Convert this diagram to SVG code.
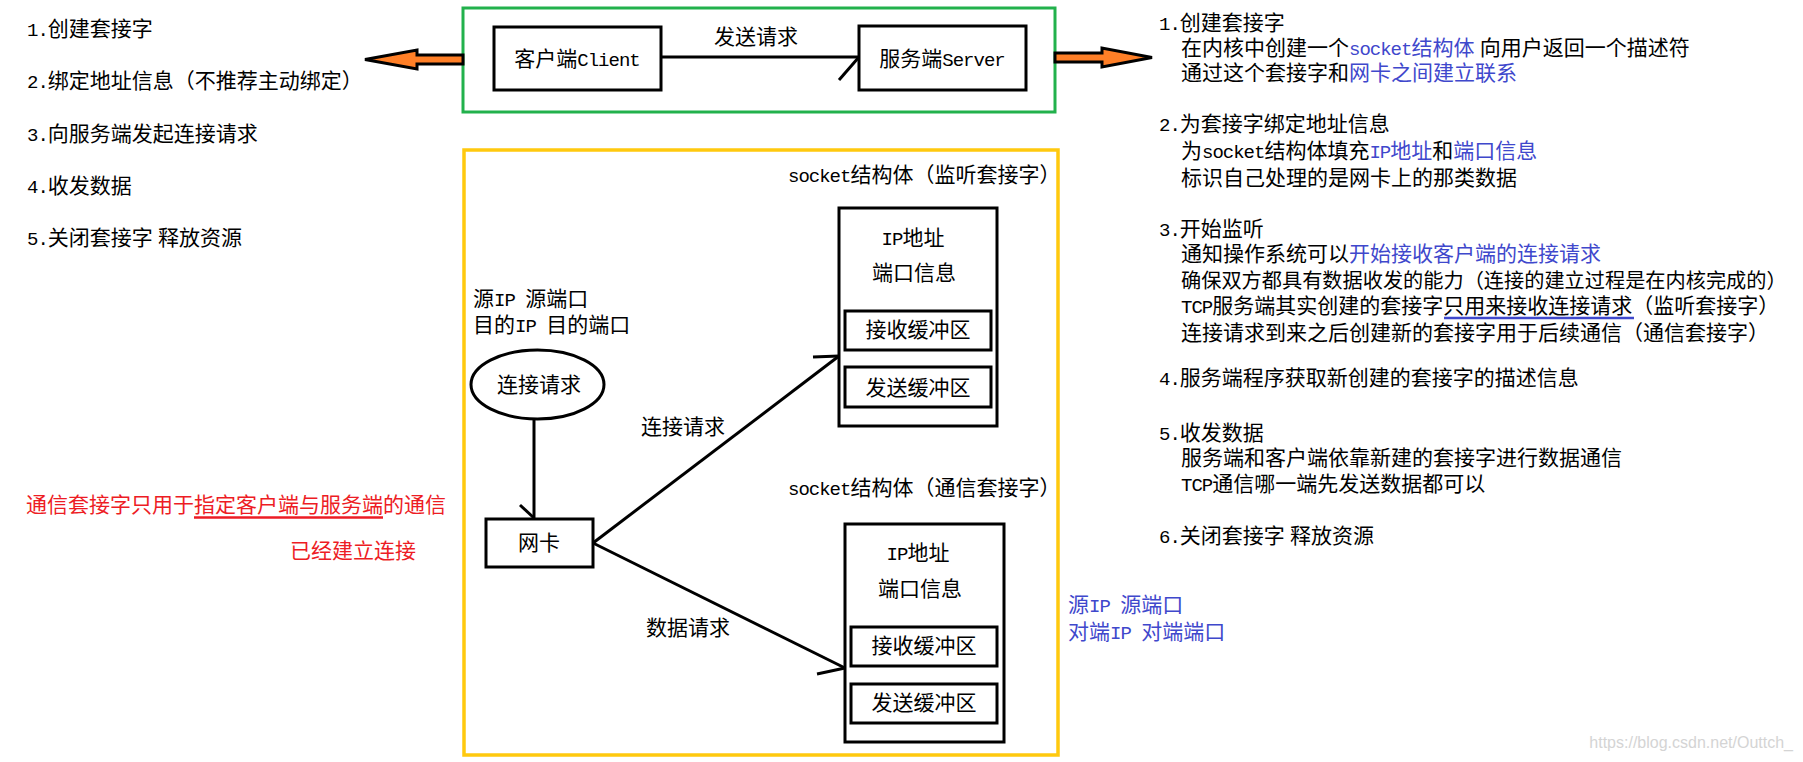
<svg xmlns="http://www.w3.org/2000/svg" width="1803" height="762" viewBox="0 0 1803 762">
<style>
.t{font-family:"Liberation Serif","Noto Sans CJK SC",serif;font-size:21px;fill:#000}
.m{font-family:"Liberation Mono","Noto Sans CJK SC",monospace;font-size:19px;letter-spacing:-1px}
.b{fill:#3F48CC}
.r{fill:#ED1C24}
.c{text-anchor:middle}
.box{fill:#fff;stroke:#000;stroke-width:3}
.ln{stroke:#000;stroke-width:3;fill:none}
.oa{fill:#FF7F27;stroke:#000;stroke-width:3;stroke-linejoin:miter}
</style>
<rect width="1803" height="762" fill="#fff"/>

<g id="frames">
  <rect x="463" y="8" width="592" height="104" fill="none" stroke="#22B14C" stroke-width="3"/>
  <rect x="464" y="150" width="594" height="605" fill="none" stroke="#FFC90E" stroke-width="3.5"/>
</g>

<g id="connectors">
  <polygon class="oa" points="365,59.5 417,50 417,55 463,55 463,64 417,64 417,69"/>
  <polygon class="oa" points="1055,53 1102,53 1102,48 1152,57.5 1102,67 1102,62 1055,62"/>
  <line class="ln" x1="661" y1="57" x2="859" y2="57"/>
  <line class="ln" x1="839" y1="80" x2="859" y2="57"/>
  <line class="ln" x1="534" y1="419" x2="534" y2="518"/>
  <line class="ln" x1="520" y1="505" x2="534" y2="518"/>
  <line class="ln" x1="593" y1="543" x2="839" y2="356"/>
  <line class="ln" x1="813" y1="357" x2="839" y2="356"/>
  <line class="ln" x1="593" y1="543" x2="845" y2="668"/>
  <line class="ln" x1="817" y1="674" x2="845" y2="668"/>
  <text class="t c" x="756" y="44">发送请求</text>
  <text class="t c" x="683" y="434">连接请求</text>
  <text class="t c" x="688" y="635">数据请求</text>
</g>

<g id="client">
  <rect class="box" x="494" y="27" width="167" height="63"/>
  <text class="t c" x="577" y="66">客户端<tspan class="m">Client</tspan></text>
</g>
<g id="server">
  <rect class="box" x="859" y="26" width="167" height="64"/>
  <text class="t c" x="942" y="66">服务端<tspan class="m">Server</tspan></text>
</g>

<g id="conn-request">
  <ellipse cx="537.5" cy="384.5" rx="66.5" ry="34.5" fill="#fff" stroke="#000" stroke-width="3"/>
  <text class="t c" x="539" y="392">连接请求</text>
</g>
<g id="nic">
  <rect class="box" x="486" y="519" width="107" height="48"/>
  <text class="t c" x="539" y="550">网卡</text>
</g>

<g id="listen-socket">
  <text class="t" x="788" y="182"><tspan class="m">socket</tspan>结构体（监听套接字）</text>
  <rect class="box" x="839" y="208" width="158" height="218"/>
  <text class="t c" x="913" y="245"><tspan class="m">IP</tspan>地址</text>
  <text class="t c" x="914" y="280">端口信息</text>
  <rect class="box" x="845" y="311" width="146" height="39"/>
  <text class="t c" x="918" y="337">接收缓冲区</text>
  <rect class="box" x="845" y="367" width="146" height="40"/>
  <text class="t c" x="918" y="395">发送缓冲区</text>
</g>

<g id="comm-socket">
  <text class="t" x="788" y="495"><tspan class="m">socket</tspan>结构体（通信套接字）</text>
  <rect class="box" x="845" y="524" width="159" height="218"/>
  <text class="t c" x="918" y="560"><tspan class="m">IP</tspan>地址</text>
  <text class="t c" x="920" y="596">端口信息</text>
  <rect class="box" x="851" y="627" width="146" height="39"/>
  <text class="t c" x="924" y="653">接收缓冲区</text>
  <rect class="box" x="851" y="684" width="146" height="39"/>
  <text class="t c" x="924" y="710">发送缓冲区</text>
</g>

<g id="packet-info">
  <text class="t" x="473" y="306">源<tspan class="m">IP </tspan>源端口</text>
  <text class="t" x="473" y="332">目的<tspan class="m">IP </tspan>目的端口</text>
</g>

<g id="peer-info">
  <text class="t b" x="1068" y="612">源<tspan class="m">IP </tspan>源端口</text>
  <text class="t b" x="1068" y="639">对端<tspan class="m">IP </tspan>对端端口</text>
</g>

<g id="client-steps">
  <text class="t" x="27" y="36"><tspan class="m">1.</tspan>创建套接字</text>
  <text class="t" x="27" y="88"><tspan class="m">2.</tspan>绑定地址信息（不推荐主动绑定）</text>
  <text class="t" x="27" y="141"><tspan class="m">3.</tspan>向服务端发起连接请求</text>
  <text class="t" x="27" y="193"><tspan class="m">4.</tspan>收发数据</text>
  <text class="t" x="27" y="245"><tspan class="m">5.</tspan>关闭套接字 释放资源</text>
</g>

<g id="red-note">
  <text class="t r" x="26" y="512">通信套接字只用于指定客户端与服务端的通信</text>
  <line x1="194" y1="517.5" x2="383" y2="517.5" stroke="#ED1C24" stroke-width="2.5"/>
  <text class="t r" x="290" y="558">已经建立连接</text>
</g>

<g id="server-steps">
  <text class="t" x="1159" y="30"><tspan class="m">1.</tspan>创建套接字</text>
  <text class="t" x="1181" y="55">在内核中创建一个<tspan class="b"><tspan class="m">socket</tspan>结构体</tspan> 向用户返回一个描述符</text>
  <text class="t" x="1181" y="80">通过这个套接字和<tspan class="b">网卡之间建立联系</tspan></text>
  <text class="t" x="1159" y="131"><tspan class="m">2.</tspan>为套接字绑定地址信息</text>
  <text class="t" x="1181" y="158">为<tspan class="m">socket</tspan>结构体填充<tspan class="b"><tspan class="m">IP</tspan>地址</tspan>和<tspan class="b">端口信息</tspan></text>
  <text class="t" x="1181" y="185">标识自己处理的是网卡上的那类数据</text>
  <text class="t" x="1159" y="236"><tspan class="m">3.</tspan>开始监听</text>
  <text class="t" x="1181" y="261">通知操作系统可以<tspan class="b">开始接收客户端的连接请求</tspan></text>
  <text class="t" x="1181" y="288" style="font-size:20.2px">确保双方都具有数据收发的能力（连接的建立过程是在内核完成的）</text>
  <text class="t" x="1181" y="313"><tspan class="m">TCP</tspan>服务端其实创建的套接字只用来接收连接请求（监听套接字）</text>
  <line x1="1444" y1="318" x2="1634" y2="318" stroke="#3F48CC" stroke-width="2.5"/>
  <text class="t" x="1181" y="340">连接请求到来之后创建新的套接字用于后续通信（通信套接字）</text>
  <text class="t" x="1159" y="385"><tspan class="m">4.</tspan>服务端程序获取新创建的套接字的描述信息</text>
  <text class="t" x="1159" y="440"><tspan class="m">5.</tspan>收发数据</text>
  <text class="t" x="1181" y="465">服务端和客户端依靠新建的套接字进行数据通信</text>
  <text class="t" x="1181" y="491"><tspan class="m">TCP</tspan>通信哪一端先发送数据都可以</text>
  <text class="t" x="1159" y="543"><tspan class="m">6.</tspan>关闭套接字 释放资源</text>
</g>

<text x="1793" y="748" text-anchor="end" font-family="Liberation Sans, sans-serif" font-size="16" fill="#d4d4d4">https://blog.csdn.net/Outtch_</text>
</svg>
